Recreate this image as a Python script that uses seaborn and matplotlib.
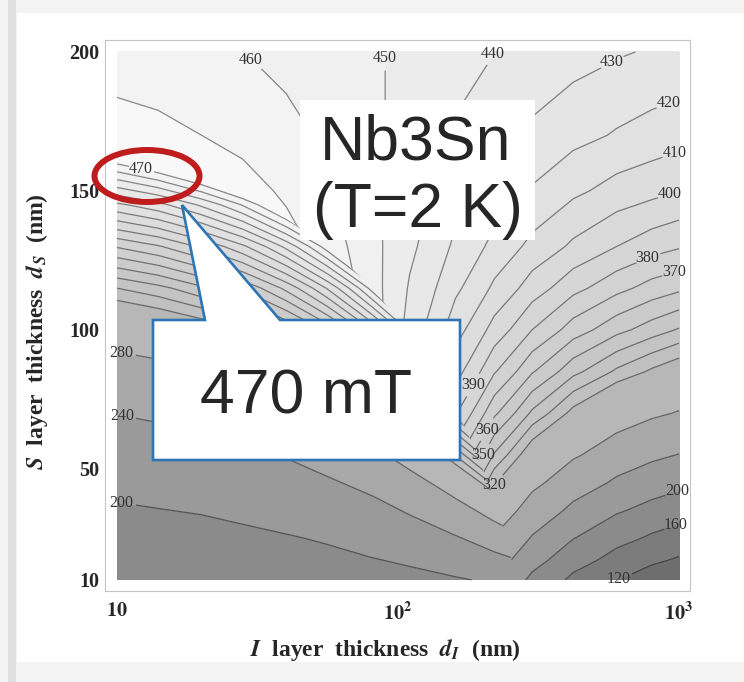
import numpy as np
import matplotlib
matplotlib.use("Agg")
import matplotlib.pyplot as plt
import seaborn as sns
from matplotlib.colors import Normalize
from matplotlib.patches import Polygon, Rectangle, Ellipse

# max field (mT), I layer thickness dI (nm) x S layer thickness dS (nm)
# part above / right of the corner line (S surface limited)
dI_g = [10, 14, 20, 28, 40, 56, 80, 110, 160, 220, 300, 420, 600, 800, 1000]
dS_g = [10, 17, 25, 35, 45, 55, 70, 85, 100, 115, 130, 150, 170, 200]
field_g = [
    [1132, 1047, 940, 830, 706, 591, 478, 388, 300, 239, 191, 151, 120, 100, 89],
    [1006, 941, 859, 771, 670, 573, 475, 395, 314, 258, 213, 175, 145, 126, 115],
    [898, 849, 786, 717, 635, 555, 471, 402, 330, 278, 237, 201, 172, 154, 143],
    [799, 763, 716, 664, 601, 537, 468, 409, 347, 301, 264, 231, 204, 188, 177],
    [726, 699, 664, 623, 573, 522, 465, 415, 362, 321, 288, 259, 234, 219, 209],
    [671, 651, 623, 591, 551, 510, 463, 421, 374, 339, 310, 284, 261, 247, 239],
    [611, 597, 578, 555, 526, 495, 460, 427, 391, 362, 338, 316, 297, 285, 278],
    [569, 559, 545, 529, 508, 484, 457, 432, 404, 381, 361, 343, 328, 318, 311],
    [539, 532, 522, 509, 494, 476, 456, 436, 414, 396, 380, 365, 353, 345, 339],
    [517, 512, 504, 495, 483, 470, 454, 439, 422, 408, 395, 383, 373, 366, 362],
    [501, 497, 491, 484, 475, 465, 453, 442, 428, 417, 407, 398, 390, 384, 381],
    [485, 483, 479, 474, 468, 461, 452, 444, 434, 426, 419, 412, 406, 403, 400],
    [475, 473, 470, 467, 463, 458, 452, 446, 439, 433, 428, 423, 419, 416, 414],
    [464, 463, 462, 460, 457, 455, 451, 448, 443, 440, 437, 434, 431, 429, 428],
]
# part below / left of the corner line (substrate limited)
dI_f = [10, 14, 20, 28, 40, 56, 80, 110, 160, 220, 300]
dS_f = [10, 25, 40, 55, 70, 85, 100, 115, 130, 145, 160, 175]
field_f = [
    [177, 178, 179, 180, 181, 183, 187, 190, 197, 205, 215],
    [188, 190, 191, 194, 198, 203, 211, 221, 237, 257, 283],
    [202, 204, 207, 212, 218, 227, 239, 255, 282, 314, 356],
    [220, 223, 227, 233, 242, 254, 272, 294, 331, 376, 435],
    [241, 245, 250, 258, 270, 285, 308, 337, 386, 444, 521],
    [266, 271, 278, 288, 302, 322, 351, 387, 447, 520, 616],
    [296, 302, 310, 322, 340, 363, 399, 443, 516, 605, 722],
    [330, 337, 348, 362, 383, 411, 453, 506, 594, 700, 840],
    [371, 379, 392, 408, 433, 466, 516, 578, 682, 807, 972],
    [418, 427, 442, 461, 490, 529, 587, 660, 782, 927, 1121],
    [471, 483, 500, 522, 556, 601, 669, 754, 895, 1064, 1289],
    [533, 546, 566, 592, 631, 683, 762, 860, 1023, 1218, 1479],
]
# corner line where the two limits meet
kink_dI = [263, 250, 235, 218, 200, 182, 163, 144, 125, 107, 89, 72, 56, 40, 26, 12, 10]
kink_dS = [10, 20, 30, 40, 50, 60, 70, 80, 90, 100, 110, 120, 130, 140, 150, 160, 162]

levels = [120, 160, 200, 240, 280, 320, 330, 340, 350, 360, 370, 380, 390,
          400, 410, 420, 430, 440, 450, 460, 470]

sns.set_style("white")
plt.rcParams['font.family'] = ['Liberation Serif', 'DejaVu Serif']
plt.rcParams['mathtext.fontset'] = 'stix'

W, H = 744, 682
fig = plt.figure(figsize=(W / 100, H / 100), dpi=100, facecolor='#f3f3f3')


def px(x, y):
    return (x / W, 1 - y / H)


# slide background
fig.add_artist(Rectangle(px(17, 662), (W - 17) / W, (662 - 13) / H, transform=fig.transFigure,
                         fc='white', ec='none', zorder=-2))
fig.add_artist(Rectangle(px(8, H), 8 / W, 1, transform=fig.transFigure,
                         fc='#e0e0e0', ec='none', zorder=-2))

ax = fig.add_axes([105 / W, 1 - 591 / H, 585 / W, 551 / H])
ax.set_facecolor('white')
ax.set_xscale('log')
ax.set_xlim(9.06, 1094)
ax.set_ylim(6.0, 204.3)

cmap = plt.get_cmap('gray').copy()
cmap.set_under('#6e6e6e')
cmap.set_over('#f8f8f8')
norm = Normalize(-201, 498)

edge = [(277, 0)] + list(zip(kink_dI, kink_dS)) + [(1, 163.5)]
clip_f = Polygon(edge + [(1, 0)], closed=True, transform=ax.transData)
clip_g = Polygon(edge + [(1, 400), (1e4, 400), (1e4, 0)], closed=True, transform=ax.transData)

ax.contourf(dI_g, dS_g, field_g, levels=levels, cmap=cmap, norm=norm, extend='both')
cf = ax.contourf(dI_f, dS_f, field_f, levels=levels, cmap=cmap, norm=norm, extend='both')
cf.set_clip_path(clip_f)

line_kw = dict(levels=levels, colors='k', linewidths=0.9, alpha=0.45)
lines_g = ax.contour(dI_g, dS_g, field_g, **line_kw)
lines_g.set_clip_path(clip_g)
lines_f = ax.contour(dI_f, dS_f, field_f, **line_kw)
lines_f.set_clip_path(clip_f)

lab_kw = dict(inline=True, inline_spacing=1, fmt='%d', fontsize=11.5)
t1 = ax.clabel(lines_g, manual=[(30.5, 198), (88, 198), (229, 198), (578, 196), (914, 182), (944, 166),
                                (914, 151), (757, 128), (953, 122), (985, 42), (980, 29), (607, 11),
                                (216, 44.5), (198, 55.2), (208, 64), (182, 80.5)], **lab_kw)
t2 = ax.clabel(lines_f, manual=[(12.2, 158), (10.4, 92), (10.4, 69), (10.4, 38)], **lab_kw)
for t in list(t1) + list(t2):
    t.set_color('#333333')
    t.set_alpha(1)
    t.set_rotation(0)

ax.minorticks_off()
ax.set_xticks([10, 100, 1000], [r'$\mathbf{10}$', r'$\mathbf{10^2}$', r'$\mathbf{10^3}$'])
ax.set_yticks([10, 50, 100, 150, 200])
ax.tick_params(direction='in', length=4, width=0.8, color='#999999', labelsize=14.5)
ax.tick_params(axis='x', pad=8)
ax.tick_params(axis='y', pad=4)
for t in ax.get_yticklabels():
    t.set_fontweight('bold')
for s in ax.spines.values():
    s.set_color('#c4c4c4')
    s.set_linewidth(0.8)

ax.set_xlabel(r'$\mathbfit{I}$  layer  thickness  $\mathbfit{d_I}$  (nm)', fontsize=17,
              fontweight='bold')
ax.set_ylabel(r'$\mathbfit{S}$  layer  thickness  $\mathbfit{d_S}$  (nm)', fontsize=17,
              fontweight='bold')
ax.xaxis.set_label_coords(0.479, -0.083)
ax.yaxis.set_label_coords(-0.094, 0.47)

# material note
fig.add_artist(Rectangle(px(300, 240), 235 / W, 140 / H, transform=fig.transFigure,
                         fc='white', ec='none', zorder=5))
fig.text(*px(416, 160), 'Nb3Sn', fontsize=45, family='Liberation Sans', ha='center',
         va='baseline', zorder=6)
fig.text(*px(418, 227), '(T=2 K)', fontsize=45, family='Liberation Sans', ha='center',
         va='baseline', zorder=6)

# highlight of the 470 mT contour and callout
fig.add_artist(Ellipse(px(147, 176), 105 / W, 52 / H, transform=fig.transFigure, fill=False,
                       ec='#bf1d1d', lw=4.3, zorder=5))
callout = [px(153, 320), px(205, 320), px(182, 205), px(280, 320), px(460, 320),
           px(460, 460), px(153, 460)]
fig.add_artist(Polygon(callout, closed=True, transform=fig.transFigure, fc='white',
                       ec='#2e75b6', lw=1.9, joinstyle='miter', zorder=5))
fig.text(*px(306, 413), '470 mT', fontsize=45, family='Liberation Sans', ha='center',
         va='baseline', zorder=6)

fig.savefig('out.png', dpi=100, facecolor=fig.get_facecolor())
